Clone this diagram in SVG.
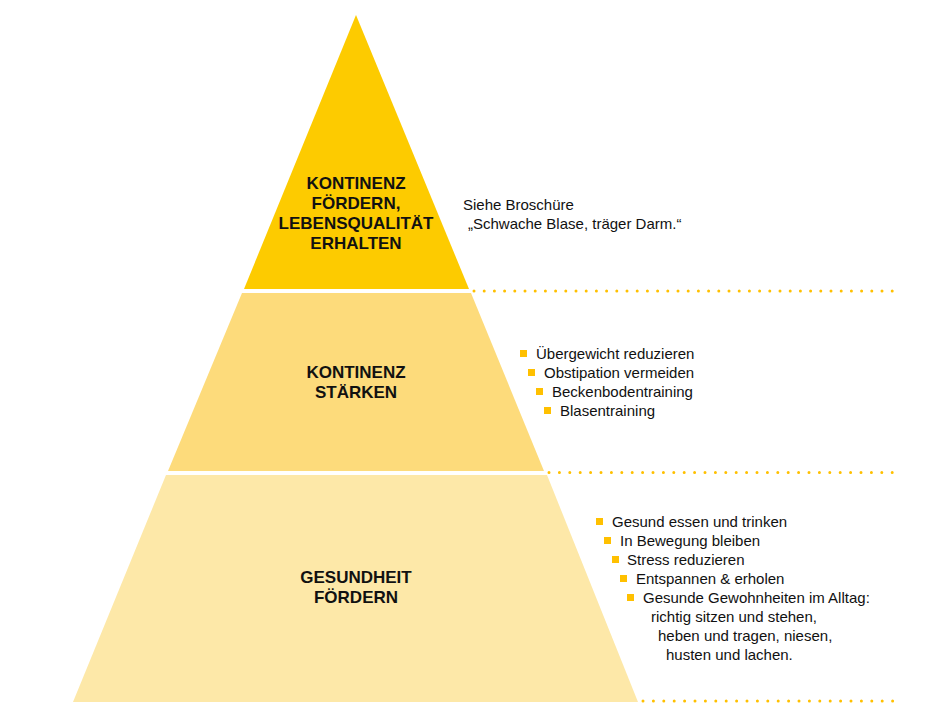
<svg xmlns="http://www.w3.org/2000/svg" width="950" height="714" viewBox="0 0 950 714">
<style>
.title{font-family:"Liberation Sans",Arial,sans-serif;font-weight:bold;font-size:17px;fill:#111;text-anchor:middle}
.txt{font-family:"Liberation Sans",Arial,sans-serif;font-size:15px;fill:#111}
.dots{stroke:#FFC000;stroke-width:3;stroke-linecap:round;stroke-dasharray:0 10.2;fill:none}
.bul{fill:#FFC000}
</style>
<defs>
<rect id="sq" width="7" height="7" class="bul"/>
</defs>
<rect width="950" height="714" fill="#fff"/>
<g id="connectors">
<line class="dots" x1="474" y1="291" x2="893" y2="291"/>
<line class="dots" x1="549" y1="472.5" x2="893" y2="472.5" style="stroke-dasharray:0 10.4"/>
<line class="dots" x1="643" y1="701" x2="894" y2="701" style="stroke-dasharray:0 10.4"/>
</g>
<g id="top">
<polygon points="356,15 469,289 244,289" fill="#FDCB00"/>
<text class="title" x="356" y="189">KONTINENZ</text>
<text class="title" x="356" y="209">FÖRDERN,</text>
<text class="title" x="356" y="229">LEBENSQUALITÄT</text>
<text class="title" x="356" y="249">ERHALTEN</text>
</g>
<g id="middle">
<polygon points="242,293 471,293 544,471 168,471" fill="#FDDB7B"/>
<text class="title" x="356" y="378">KONTINENZ</text>
<text class="title" x="356" y="398">STÄRKEN</text>
</g>
<g id="bottom">
<polygon points="166,475 547,475 638,702 73,702" fill="#FDE8A8"/>
<text class="title" x="356" y="583">GESUNDHEIT</text>
<text class="title" x="356" y="603">FÖRDERN</text>
</g>
<g id="note-top">
<text class="txt" x="463" y="210">Siehe Broschüre</text>
<text class="txt" x="468" y="229">„Schwache Blase, träger Darm.“</text>
</g>
<g id="list-middle">
<use href="#sq" x="520" y="350"/>
<text class="txt" x="536" y="359">Übergewicht reduzieren</text>
<use href="#sq" x="528" y="369"/>
<text class="txt" x="544" y="378">Obstipation vermeiden</text>
<use href="#sq" x="536" y="388"/>
<text class="txt" x="552" y="397">Beckenbodentraining</text>
<use href="#sq" x="544" y="407"/>
<text class="txt" x="560" y="416">Blasentraining</text>
</g>
<g id="list-bottom">
<use href="#sq" x="596" y="518"/>
<text class="txt" x="612" y="527">Gesund essen und trinken</text>
<use href="#sq" x="604" y="537"/>
<text class="txt" x="620" y="546">In Bewegung bleiben</text>
<use href="#sq" x="612" y="556"/>
<text class="txt" x="627" y="565">Stress reduzieren</text>
<use href="#sq" x="620" y="575"/>
<text class="txt" x="636" y="584">Entspannen &amp; erholen</text>
<use href="#sq" x="627" y="594"/>
<text class="txt" x="643" y="603">Gesunde Gewohnheiten im Alltag:</text>
<text class="txt" x="651" y="622">richtig sitzen und stehen,</text>
<text class="txt" x="658" y="641">heben und tragen, niesen,</text>
<text class="txt" x="666" y="660">husten und lachen.</text>
</g>
</svg>
